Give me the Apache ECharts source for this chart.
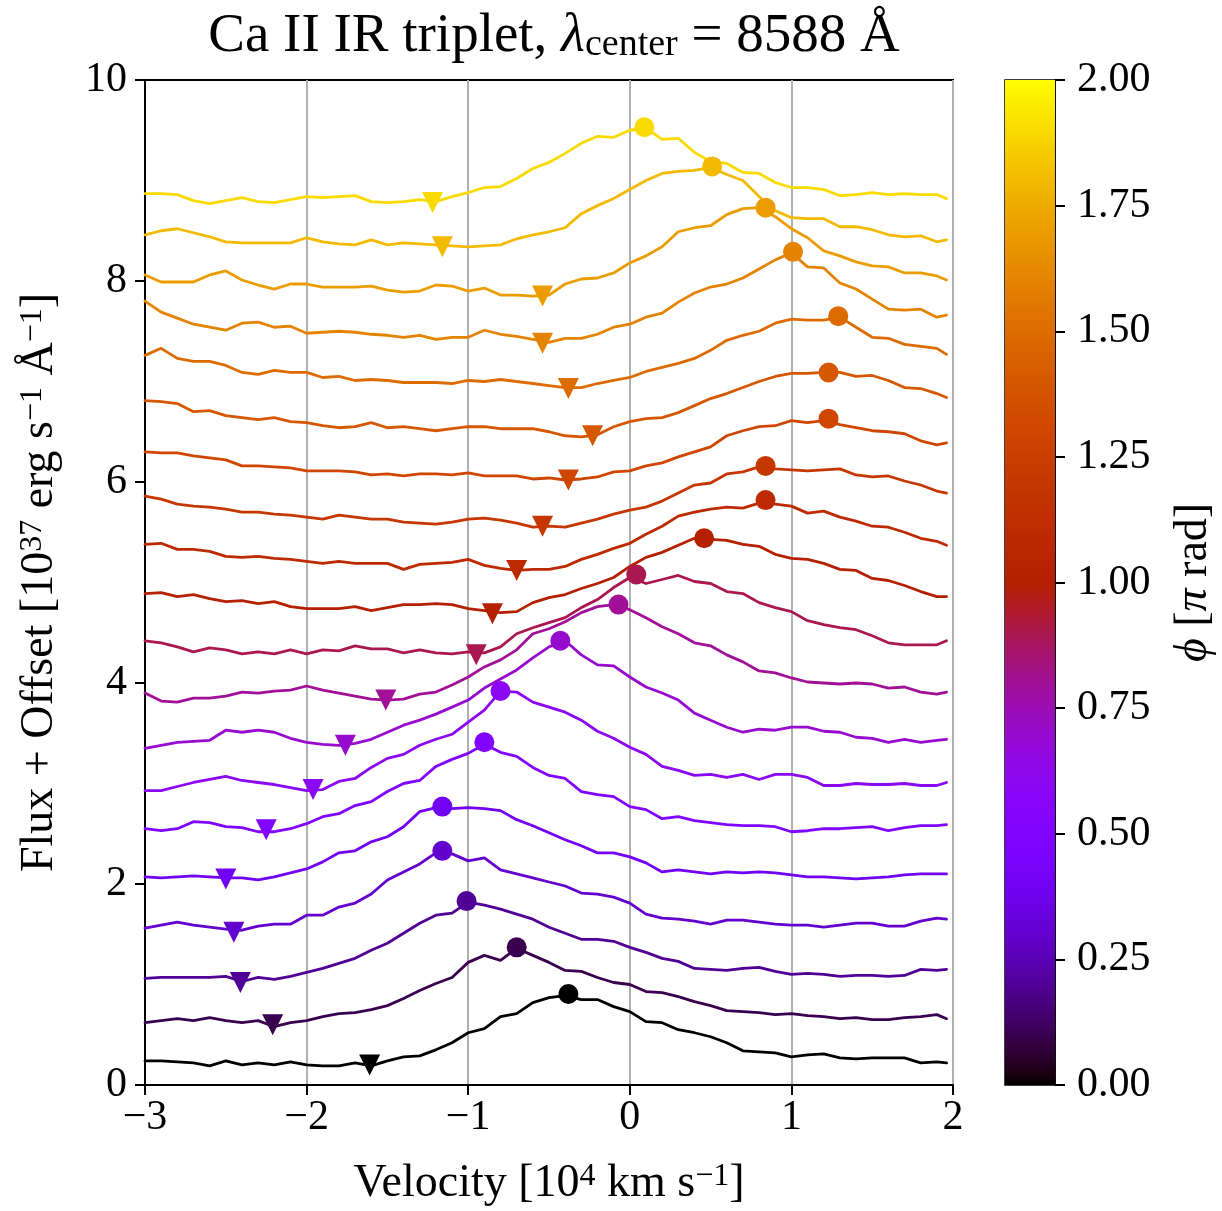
<!DOCTYPE html>
<html><head><meta charset="utf-8">
<script src="https://cdn.jsdelivr.net/npm/echarts@6/dist/echarts.min.js"></script>
<style>html,body{margin:0;padding:0;background:#fff}#c{width:1222px;height:1211px}</style>
</head><body><div id="c"></div>
<script>
const velocity = [-3.0,-2.9,-2.8,-2.7,-2.6,-2.5,-2.4,-2.3,-2.2,-2.1,-2.0,-1.9,-1.8,-1.7,-1.6,-1.5,-1.4,-1.3,-1.2,-1.1,-1.0,-0.9,-0.8,-0.7,-0.6,-0.5,-0.4,-0.3,-0.2,-0.1,0.0,0.1,0.2,0.3,0.4,0.5,0.6,0.7,0.8,0.9,1.0,1.1,1.2,1.3,1.4,1.5,1.6,1.7,1.8,1.9,1.96];
const phases = [0.0,0.1,0.2,0.3,0.4,0.5,0.6,0.7,0.8,0.9,1.0,1.1,1.2,1.3,1.4,1.5,1.6,1.7,1.8,1.9];

const flux_00 = [0.24,0.24,0.23,0.22,0.19,0.24,0.20,0.22,0.20,0.23,0.20,0.19,0.19,0.22,0.19,0.24,0.28,0.29,0.35,0.42,0.52,0.56,0.68,0.71,0.82,0.87,0.89,0.85,0.85,0.78,0.73,0.63,0.62,0.55,0.52,0.48,0.42,0.34,0.33,0.32,0.28,0.30,0.31,0.27,0.26,0.27,0.27,0.27,0.22,0.23,0.22];
const flux_01 = [0.62,0.64,0.66,0.64,0.67,0.64,0.62,0.64,0.58,0.62,0.64,0.68,0.71,0.72,0.75,0.79,0.86,0.94,1.01,1.07,1.22,1.29,1.24,1.36,1.29,1.22,1.14,1.13,1.07,1.02,1.00,0.93,0.92,0.88,0.83,0.79,0.74,0.73,0.72,0.70,0.71,0.69,0.68,0.66,0.67,0.65,0.65,0.67,0.68,0.70,0.66];
const flux_02 = [1.06,1.07,1.07,1.07,1.07,1.08,1.03,1.07,1.05,1.08,1.12,1.16,1.21,1.26,1.34,1.41,1.51,1.61,1.69,1.71,1.82,1.79,1.75,1.70,1.65,1.57,1.51,1.45,1.45,1.43,1.37,1.32,1.26,1.23,1.16,1.15,1.14,1.16,1.17,1.13,1.10,1.11,1.10,1.08,1.09,1.09,1.08,1.09,1.15,1.14,1.15];
const flux_03 = [1.56,1.59,1.62,1.59,1.57,1.55,1.54,1.58,1.60,1.60,1.69,1.69,1.77,1.81,1.90,2.04,2.12,2.20,2.31,2.30,2.23,2.26,2.14,2.10,2.06,2.02,1.98,1.91,1.90,1.87,1.81,1.70,1.66,1.65,1.63,1.60,1.64,1.64,1.62,1.60,1.59,1.59,1.57,1.59,1.61,1.61,1.58,1.58,1.63,1.66,1.65];
const flux_04 = [2.07,2.06,2.07,2.08,2.07,2.06,2.06,2.04,2.07,2.11,2.15,2.22,2.31,2.33,2.42,2.47,2.57,2.72,2.76,2.75,2.76,2.75,2.73,2.64,2.58,2.51,2.44,2.38,2.31,2.31,2.27,2.21,2.12,2.14,2.12,2.10,2.12,2.11,2.12,2.11,2.09,2.07,2.07,2.06,2.05,2.06,2.07,2.09,2.10,2.10,2.10];
const flux_05 = [2.55,2.53,2.55,2.62,2.61,2.57,2.56,2.52,2.52,2.55,2.60,2.67,2.70,2.78,2.82,2.92,3.00,3.03,3.17,3.24,3.30,3.39,3.31,3.27,3.16,3.08,3.05,2.92,2.89,2.87,2.77,2.74,2.65,2.67,2.63,2.61,2.59,2.58,2.58,2.57,2.52,2.53,2.55,2.55,2.56,2.57,2.53,2.56,2.58,2.58,2.59];
const flux_06 = [2.93,2.93,2.97,3.01,3.04,3.07,3.03,3.01,2.99,2.96,2.93,2.94,3.02,3.05,3.16,3.25,3.29,3.38,3.44,3.49,3.61,3.73,3.92,3.91,3.81,3.76,3.71,3.63,3.52,3.45,3.36,3.29,3.17,3.13,3.08,3.09,3.06,3.09,3.04,3.09,3.09,3.06,2.98,2.98,3.00,2.99,2.99,3.00,2.98,2.98,3.01];
const flux_07 = [3.35,3.38,3.41,3.42,3.43,3.53,3.51,3.53,3.51,3.45,3.41,3.39,3.38,3.40,3.44,3.51,3.58,3.63,3.69,3.76,3.83,3.95,4.04,4.13,4.25,4.36,4.42,4.28,4.18,4.17,4.06,3.96,3.90,3.83,3.70,3.63,3.56,3.51,3.54,3.53,3.56,3.56,3.52,3.51,3.46,3.45,3.41,3.44,3.41,3.43,3.44];
const flux_08 = [3.90,3.82,3.81,3.85,3.85,3.87,3.91,3.90,3.92,3.93,3.97,3.93,3.90,3.87,3.84,3.83,3.84,3.89,3.91,3.98,4.06,4.16,4.23,4.33,4.49,4.54,4.61,4.70,4.76,4.78,4.73,4.65,4.56,4.49,4.40,4.37,4.28,4.21,4.12,4.10,4.05,4.01,4.00,3.99,4.00,3.99,3.95,3.96,3.91,3.89,3.91];
const flux_09 = [4.42,4.40,4.36,4.31,4.35,4.33,4.29,4.31,4.29,4.33,4.29,4.33,4.32,4.37,4.34,4.34,4.30,4.33,4.30,4.29,4.31,4.30,4.36,4.49,4.55,4.60,4.65,4.75,4.83,4.95,5.05,4.99,5.03,5.07,5.01,4.99,4.91,4.89,4.80,4.75,4.71,4.62,4.58,4.55,4.53,4.47,4.40,4.38,4.38,4.38,4.42];
const flux_10 = [4.89,4.90,4.86,4.88,4.84,4.81,4.82,4.79,4.81,4.76,4.74,4.74,4.74,4.76,4.72,4.75,4.78,4.78,4.79,4.78,4.74,4.72,4.70,4.71,4.80,4.85,4.88,4.94,4.99,5.05,5.16,5.25,5.30,5.37,5.44,5.43,5.42,5.38,5.36,5.28,5.24,5.23,5.19,5.13,5.12,5.04,5.02,4.97,4.91,4.86,4.86];
const flux_11 = [5.38,5.39,5.33,5.33,5.31,5.26,5.25,5.26,5.24,5.23,5.21,5.19,5.21,5.19,5.19,5.19,5.13,5.18,5.19,5.20,5.23,5.17,5.14,5.12,5.13,5.13,5.16,5.23,5.28,5.34,5.39,5.48,5.56,5.66,5.70,5.73,5.75,5.74,5.79,5.78,5.76,5.69,5.71,5.65,5.61,5.56,5.55,5.50,5.44,5.41,5.37];
const flux_12 = [5.86,5.83,5.78,5.76,5.75,5.73,5.70,5.70,5.68,5.67,5.65,5.63,5.67,5.65,5.63,5.63,5.60,5.59,5.58,5.60,5.63,5.64,5.62,5.59,5.55,5.56,5.55,5.59,5.63,5.68,5.72,5.75,5.81,5.89,5.97,5.99,6.08,6.10,6.15,6.13,6.12,6.11,6.12,6.13,6.07,6.05,6.06,6.01,5.97,5.91,5.89];
const flux_13 = [6.30,6.29,6.29,6.26,6.24,6.22,6.16,6.16,6.15,6.14,6.11,6.11,6.11,6.10,6.07,6.08,6.06,6.08,6.08,6.07,6.09,6.06,6.06,6.06,6.03,6.04,6.02,6.03,6.05,6.10,6.11,6.16,6.19,6.25,6.30,6.35,6.46,6.51,6.55,6.56,6.61,6.59,6.61,6.57,6.54,6.51,6.50,6.48,6.41,6.37,6.39];
const flux_14 = [6.81,6.80,6.78,6.70,6.71,6.66,6.64,6.62,6.64,6.60,6.59,6.56,6.54,6.55,6.59,6.54,6.55,6.53,6.51,6.53,6.55,6.55,6.53,6.53,6.53,6.50,6.46,6.45,6.47,6.55,6.60,6.63,6.64,6.69,6.76,6.83,6.88,6.94,7.00,7.05,7.08,7.08,7.09,7.09,7.05,7.06,7.01,6.94,6.93,6.88,6.84];
const flux_15 = [7.26,7.33,7.23,7.20,7.20,7.16,7.09,7.07,7.11,7.09,7.09,7.04,7.05,7.01,7.02,7.01,6.99,6.99,6.99,6.98,7.01,7.00,7.02,7.00,6.98,6.96,6.94,6.94,6.98,7.01,7.04,7.10,7.14,7.18,7.23,7.31,7.41,7.46,7.50,7.58,7.62,7.61,7.61,7.64,7.54,7.44,7.43,7.37,7.35,7.33,7.27];
const flux_16 = [7.80,7.69,7.63,7.57,7.54,7.51,7.58,7.59,7.54,7.55,7.48,7.49,7.50,7.49,7.47,7.46,7.44,7.46,7.42,7.44,7.44,7.51,7.47,7.45,7.42,7.39,7.43,7.43,7.47,7.54,7.57,7.64,7.68,7.79,7.88,7.94,7.97,8.03,8.12,8.21,8.28,8.14,8.13,7.98,7.92,7.82,7.72,7.71,7.72,7.64,7.66];
const flux_17 = [8.06,7.99,7.99,7.99,8.06,8.10,8.01,7.96,7.92,7.97,7.97,7.94,7.94,7.94,7.95,7.91,7.89,7.90,7.96,7.95,7.90,7.93,7.86,7.86,7.85,7.86,7.97,8.02,8.03,8.08,8.18,8.25,8.34,8.49,8.53,8.55,8.66,8.72,8.73,8.64,8.52,8.43,8.30,8.25,8.19,8.15,8.14,8.08,8.08,8.05,8.01];
const flux_18 = [8.46,8.50,8.52,8.48,8.44,8.39,8.38,8.38,8.38,8.38,8.43,8.39,8.37,8.36,8.41,8.36,8.38,8.37,8.36,8.35,8.34,8.35,8.36,8.42,8.46,8.49,8.53,8.67,8.75,8.82,8.91,9.00,9.07,9.09,9.10,9.13,9.06,9.00,8.84,8.70,8.63,8.62,8.62,8.54,8.54,8.51,8.46,8.44,8.45,8.39,8.41];
const flux_19 = [8.87,8.87,8.86,8.80,8.77,8.80,8.83,8.79,8.78,8.81,8.84,8.83,8.84,8.85,8.79,8.78,8.79,8.81,8.79,8.84,8.88,8.93,8.94,9.02,9.12,9.18,9.27,9.37,9.44,9.43,9.50,9.52,9.41,9.42,9.28,9.19,9.17,9.08,9.07,8.98,8.93,8.93,8.91,8.85,8.86,8.88,8.86,8.87,8.86,8.86,8.82];

const minVel  = [-1.61,-2.21,-2.41,-2.45,-2.50,-2.25,-1.96,-1.76,-1.51,-0.95,-0.85,-0.70,-0.54,-0.38,-0.23,-0.38,-0.54,-0.54,-1.16,-1.22];
const minFlux = [0.20,0.60,1.02,1.52,2.05,2.54,2.94,3.38,3.83,4.28,4.69,5.12,5.56,6.02,6.46,6.93,7.38,7.85,8.34,8.78];
const peakVel  = [-0.38,-0.70,-1.01,-1.16,-1.16,-0.90,-0.80,-0.43,-0.07,0.04,0.46,0.84,0.84,1.23,1.23,1.29,1.01,0.84,0.51,0.09];
const peakFlux = [0.905,1.37,1.83,2.33,2.77,3.41,3.92,4.42,4.78,5.08,5.44,5.82,6.16,6.63,7.09,7.65,8.29,8.73,9.14,9.53];

const xTickStep = 1, yTickStep = 2, cbTickStep = 0.25;

const fluxes = [flux_00,flux_01,flux_02,flux_03,flux_04,flux_05,flux_06,flux_07,flux_08,flux_09,
                flux_10,flux_11,flux_12,flux_13,flux_14,flux_15,flux_16,flux_17,flux_18,flux_19];

function gnuplot(t){
  const r = Math.sqrt(t), g = t*t*t, b = Math.max(0, Math.sin(2*Math.PI*t));
  return 'rgb(' + Math.round(r*255) + ',' + Math.round(g*255) + ',' + Math.round(b*255) + ')';
}
const F = "'Liberation Serif','Times New Roman',serif";
const minus = v => (v < 0 ? '\u2212' + Math.abs(v) : String(v));

const stops = [];
for (let i = 0; i <= 100; i++) stops.push({offset: i/100, color: gnuplot(i/100)});

const series = [];
fluxes.forEach((f, k) => {
  series.push({
    type: 'line', xAxisIndex: 0, yAxisIndex: 0,
    data: velocity.map((v, i) => [v, f[i]]),
    showSymbol: false, symbol: 'none', silent: true,
    lineStyle: {width: 2.8, color: gnuplot(phases[k] / 2), opacity: 1, join: 'round', cap: 'round'},
    emphasis: {disabled: true},
    z: 2
  });
});
series.push({
  type: 'scatter', xAxisIndex: 0, yAxisIndex: 0,
  data: minVel.map((v, k) => ({value: [v, minFlux[k]], itemStyle: {color: gnuplot(phases[k] / 2), opacity: 1}})),
  symbol: 'triangle', symbolRotate: 180, symbolSize: 21, z: 3,
  itemStyle: {opacity: 1}, emphasis: {disabled: true}
});
series.push({
  type: 'scatter', xAxisIndex: 0, yAxisIndex: 0,
  data: peakVel.map((v, k) => ({value: [v, peakFlux[k]], itemStyle: {color: gnuplot(phases[k] / 2), opacity: 1}})),
  symbol: 'circle', symbolSize: 20, z: 3,
  itemStyle: {opacity: 1}, emphasis: {disabled: true}
});
series.push({
  type: 'bar', xAxisIndex: 1, yAxisIndex: 1, data: [2], barWidth: '100%', silent: true,
  itemStyle: {color: new echarts.graphic.LinearGradient(0, 1, 0, 0, stops), opacity: 1}
});

const supStyle = {fontFamily: F, fontSize: 32, verticalAlign: 'top', color: '#000'};

const option = {
  animation: false,
  backgroundColor: '#fff',
  title: {
    text: 'Ca II IR triplet, {it|\u03bb}{sub|center} = 8588 \u00c5',
    left: 549, top: 4, textAlign: 'center',
    textStyle: {
      fontFamily: F, fontSize: 55, fontWeight: 'normal', color: '#000',
      rich: {
        it: {fontFamily: F, fontSize: 55, fontStyle: 'italic', color: '#000'},
        sub: {fontFamily: F, fontSize: 38, verticalAlign: 'bottom', color: '#000'}
      }
    }
  },
  grid: [
    {left: 145, top: 80, width: 808, height: 1005, show: true, borderColor: '#000', borderWidth: 2, backgroundColor: 'transparent', containLabel: false, outerBoundsMode: 'none'},
    {left: 1005, top: 80, width: 50, height: 1005, show: true, borderColor: '#000', borderWidth: 1.5, backgroundColor: 'transparent', containLabel: false, outerBoundsMode: 'none'}
  ],
  xAxis: [
    {
      type: 'value', gridIndex: 0, min: -3, max: 2, interval: xTickStep,
      name: 'Velocity [10{sup|4} km s{sup|\u22121}]', nameLocation: 'middle', nameGap: 76,
      nameTextStyle: {fontFamily: F, fontSize: 46, color: '#000', rich: {sup: supStyle}},
      axisLine: {show: true, onZero: false, lineStyle: {color: '#000', width: 2}},
      axisTick: {show: true, inside: false, length: 10, lineStyle: {color: '#000', width: 2}},
      axisLabel: {fontFamily: F, fontSize: 42, color: '#000', margin: 12, formatter: minus, showMinLabel: true, showMaxLabel: true},
      splitLine: {show: true, lineStyle: {color: '#b0b0b0', width: 2}},
      minorTick: {show: false}
    },
    {
      type: 'category', gridIndex: 1, data: ['cb'], show: false,
      axisLine: {show: false}, axisTick: {show: false}, axisLabel: {show: false}, splitLine: {show: false}
    }
  ],
  yAxis: [
    {
      type: 'value', gridIndex: 0, min: 0, max: 10, interval: yTickStep,
      name: 'Flux + Offset [10{sup|37} erg s{sup|\u22121} \u00c5{sup|\u22121}]', nameLocation: 'middle', nameGap: 82,
      nameTextStyle: {fontFamily: F, fontSize: 46, color: '#000', rich: {sup: supStyle}},
      axisLine: {show: true, onZero: false, lineStyle: {color: '#000', width: 2}},
      axisTick: {show: true, inside: false, length: 10, lineStyle: {color: '#000', width: 2}},
      axisLabel: {fontFamily: F, fontSize: 42, color: '#000', margin: 18, showMinLabel: true, showMaxLabel: true},
      splitLine: {show: false}
    },
    {
      type: 'value', gridIndex: 1, min: 0, max: 2, interval: cbTickStep, position: 'right',
      name: '{it|\u03d5} [{it|\u03c0} rad]', nameLocation: 'middle', nameGap: 116, nameRotate: 90,
      nameTextStyle: {fontFamily: F, fontSize: 46, color: '#000', rich: {it: {fontFamily: F, fontSize: 46, fontStyle: 'italic', color: '#000'}}},
      axisLine: {show: true, lineStyle: {color: '#000', width: 1.5}},
      axisTick: {show: true, inside: false, length: 10, lineStyle: {color: '#000', width: 2}},
      axisLabel: {fontFamily: F, fontSize: 42, color: '#000', margin: 22, formatter: v => v.toFixed(2), showMinLabel: true, showMaxLabel: true},
      splitLine: {show: false}
    }
  ],
  series: series
};

const chart = echarts.init(document.getElementById('c'), null, {renderer: 'canvas', width: 1222, height: 1211});
chart.setOption(option);
</script>
</body></html>
